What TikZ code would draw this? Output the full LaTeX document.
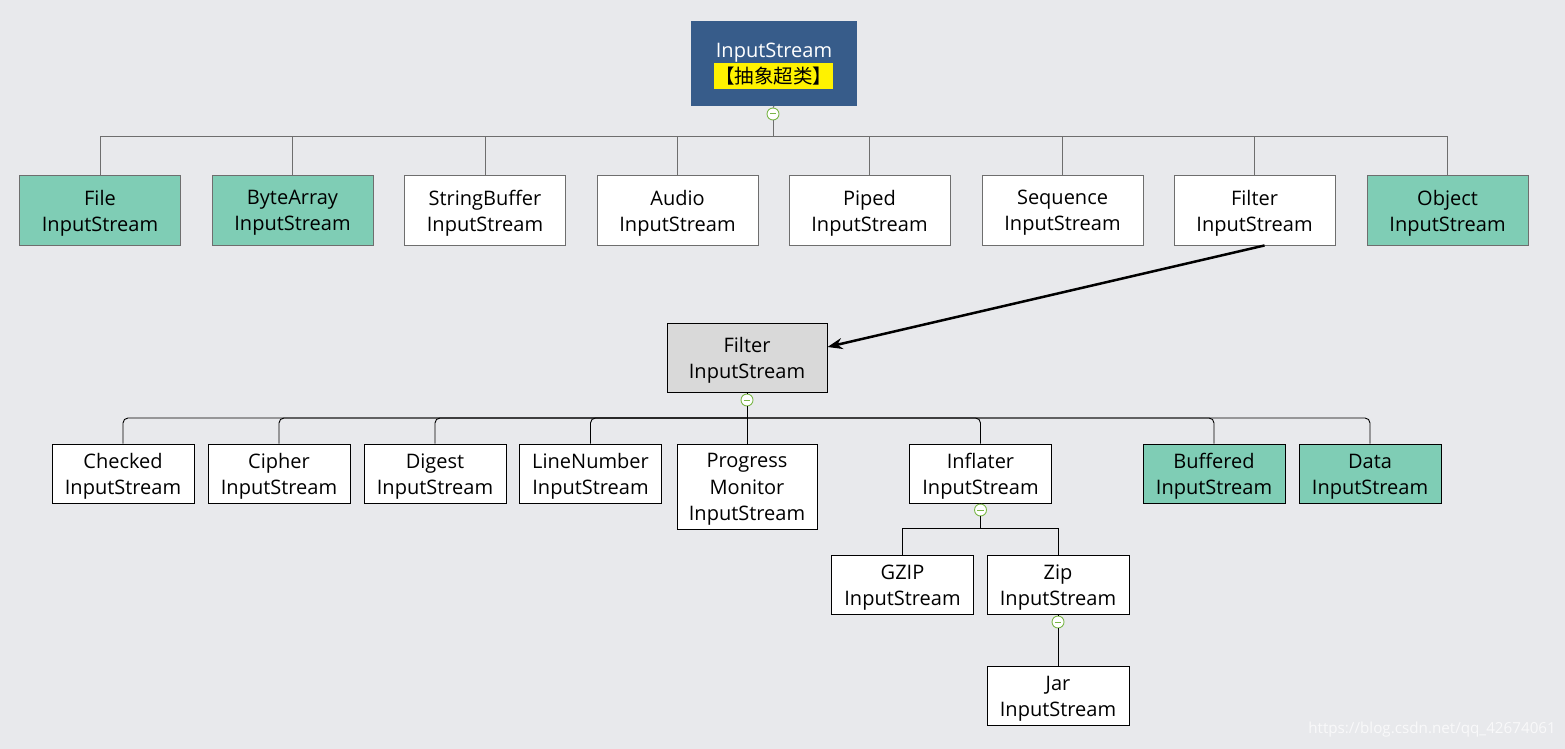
\documentclass[tikz,border=0pt]{standalone}
\usepackage{fontspec}
\setmainfont{Open Sans}
\newfontfamily\cjk{Noto Sans CJK SC}
\usetikzlibrary{arrows.meta}
\definecolor{bg}{HTML}{E8E9EC}
\definecolor{topblue}{HTML}{375C8A}
\definecolor{mint}{HTML}{7FCDB5}
\definecolor{graybox}{HTML}{D9D9D9}
\definecolor{lgray}{HTML}{6E6E6E}
\definecolor{cgreen}{HTML}{7AB648}
\tikzset{
  txt/.style={font=\fontsize{20}{26.3}\selectfont, align=center, inner sep=0pt},
  boxA/.style={draw=lgray, line width=0.9pt, minimum width=161pt, minimum height=70pt, fill=white, inner sep=0pt},
  boxB/.style={draw=black, line width=0.9pt, minimum width=142pt, minimum height=59pt, fill=white, inner sep=0pt},
  greenfill/.style={fill=mint},
  collapse/.style={circle, draw=cgreen, fill=white, line width=0.9pt, minimum size=12pt, inner sep=0pt,
    path picture={\draw[cgreen, line width=1pt] ([xshift=-3.2pt]path picture bounding box.center) -- ([xshift=3.2pt]path picture bounding box.center);}},
  conA/.style={draw=lgray, line width=0.9pt},
  conB/.style={draw=black, line width=0.9pt},
}
% box node #2 with style #1 at #3, text #4 (text node named #2t)
\newcommand\tbox[4]{%
  \node[#1] (#2) at (#3) {};
  \node[txt] (#2t) at ([yshift=-3pt]#2.center) {#4};}
\begin{document}
\begin{tikzpicture}[x=1pt, y=-1pt]
\useasboundingbox (0,0) rectangle (1565,749);
\fill[bg] (0,0) rectangle (1565,749);

% top
\node[fill=topblue, minimum width=166pt, minimum height=85pt, inner sep=0pt] (top) at (774,63.5) {};
\node[txt, text=white] (toptxt) at (774,53) {InputStream};
\node[fill=yellow, minimum width=119pt, minimum height=26pt, inner sep=0pt, font=\cjk\fontsize{19.5}{22}\selectfont] (abs) at (773.5,76) {【抽象超类】};
\node[collapse] (tc) at (773,114) {};
\coordinate (bus1) at (773,136);

% row 1
\tbox{boxA, greenfill}{file}{100,210}{File\\InputStream}
\tbox{boxA, greenfill}{bytearr}{292.5,210}{ByteArray\\InputStream}
\tbox{boxA}{strbuf}{485,210}{StringBuffer\\InputStream}
\tbox{boxA}{audio}{677.5,210}{Audio\\InputStream}
\tbox{boxA}{piped}{869.5,210}{Piped\\InputStream}
\tbox{boxA}{seq}{1062.5,210}{Sequence\\InputStream}
\tbox{boxA}{filt}{1254.5,210}{Filter\\InputStream}
\tbox{boxA, greenfill}{obj}{1447.5,210}{Object\\InputStream}

\draw[conA] (top.south) -- (tc.north);
\draw[conA] (tc.south) -- (bus1);
\foreach \n in {file,bytearr,strbuf,audio,piped,seq,filt,obj}
  \draw[conA] (bus1) -| (\n.north);

% filter stream
\tbox{draw=black, line width=0.9pt, fill=graybox, minimum width=160pt, minimum height=69pt, inner sep=0pt}{fc}{747,357.5}{Filter\\InputStream}
\draw[line width=2.5pt, -{Stealth[length=15pt,width=11pt]}] ([xshift=10pt]filt.south) -- ([yshift=10.5pt]fc.east);
\node[collapse] (fcc) at (747,400) {};
\coordinate (bus2) at (747,418);
\draw[conB] (fc.south) -- (fcc.north);
\draw[conB] (fcc.south) -- (bus2);

% row 2
\tbox{boxB}{checked}{123,473.5}{Checked\\InputStream}
\tbox{boxB}{cipher}{279,473.5}{Cipher\\InputStream}
\tbox{boxB}{digest}{435,473.5}{Digest\\InputStream}
\tbox{boxB}{linenum}{590.5,473.5}{LineNumber\\InputStream}
\tbox{boxB, minimum width=140pt, minimum height=85pt}{progress}{747,486.5}{Progress\\Monitor\\InputStream}
\tbox{boxB}{inflater}{980.5,473.5}{Inflater\\InputStream}
\tbox{boxB, greenfill}{buffered}{1214,473.5}{Buffered\\InputStream}
\tbox{boxB, greenfill}{data}{1370,473.5}{Data\\InputStream}

\foreach \n in {checked,cipher,digest,linenum,inflater,buffered,data}
  \draw[conB, rounded corners=5pt] (bus2) -| (\n.north);
\draw[conB] (bus2) -- (progress.north);

% inflater children
\node[collapse] (ic) at (980.5,510) {};
\coordinate (bus3) at (980.5,528);
\draw[conB] (inflater.south) -- (ic.north);
\draw[conB] (ic.south) -- (bus3);
\tbox{boxB}{gzip}{902.5,584.5}{GZIP\\InputStream}
\tbox{boxB}{zip}{1058,584.5}{Zip\\InputStream}
\draw[conB] (bus3) -| (gzip.north);
\draw[conB] (bus3) -| (zip.north);

\node[collapse] (zc) at (1058,622) {};
\tbox{boxB}{jar}{1058,695.5}{Jar\\InputStream}
\draw[conB] (zip.south) -- (zc.north);
\draw[conB] (zc.south) -- (jar.north);

% watermark
\node[inner sep=0pt, anchor=east, text=white!75!bg, font=\fontsize{15.2}{17}\selectfont] (wm) at (1556,730) {https://blog.csdn.net/qq\_42674061};
\end{tikzpicture}
\end{document}
